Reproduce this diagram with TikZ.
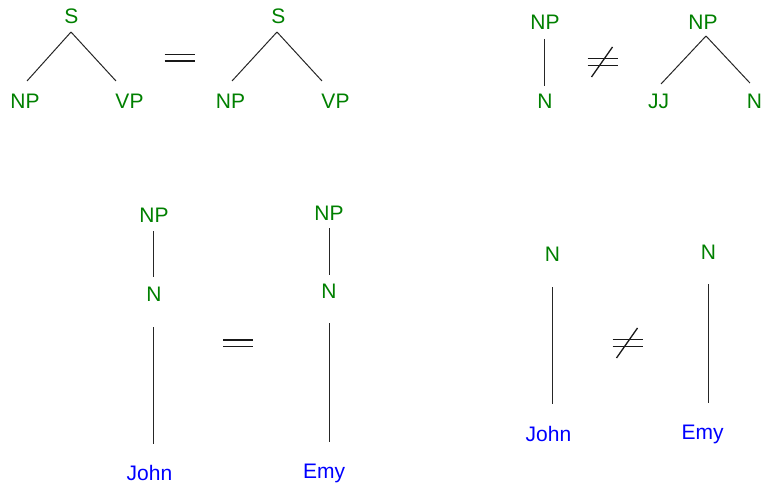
\documentclass[tikz,border=0pt]{standalone}
\usepackage{fontspec}
\setmainfont{Liberation Sans}
\usetikzlibrary{calc}
\definecolor{catgreen}{RGB}{0,128,0}
\definecolor{wordblue}{RGB}{0,0,255}
\tikzset{
  lbl/.style={anchor=base, inner sep=0pt, outer sep=0pt, text height=15pt, text depth=0pt, font=\fontsize{21}{24}\selectfont},
  cat/.style={lbl, text=catgreen},
  word/.style={lbl, text=wordblue},
  edge/.style={draw=black!85, line width=1pt},
  rel/.style={draw=black!90, line width=1.6pt},
  pics/eqsign/.style={code={
    \draw[rel] (-15,-3.3) -- (15,-3.3);
    \draw[rel] (-15,3.3) -- (15,3.3);
  }},
  pics/neqsign/.style={code={
    \draw[rel] (-15,-3.5) -- (15,-3.5);
    \draw[rel] (-15,3.5) -- (15,3.5);
    \draw[rel, line width=1.3pt] (-11,15) -- (10,-15);
  }}
}
\begin{document}
\begin{tikzpicture}[x=1pt,y=-1pt]
\useasboundingbox (0,0) rectangle (761,487);

% S -> NP VP (left)
\node[cat] (s1)  at (71.5,24)  {S};
\node[cat] (np1) at (25,108)   {NP};
\node[cat] (vp1) at (129.5,108){VP};
\draw[edge] ($(s1.south)+(-0.5,8)$) -- ($(np1.north)+(2,-12)$);
\draw[edge] ($(s1.south)+(-0.5,8)$) -- ($(vp1.north west)+(0.5,-12)$);

\pic at (179.5,57.7) {eqsign};

% S -> NP VP (right)
\node[cat] (s2)  at (278.5,24) {S};
\node[cat] (np2) at (230.5,108){NP};
\node[cat] (vp2) at (335.5,108){VP};
\draw[edge] ($(s2.south)+(-1.5,8)$) -- ($(np2.north)+(1.5,-12)$);
\draw[edge] ($(s2.south)+(-1.5,8)$) -- ($(vp2.north west)+(0.5,-12)$);

% NP -> N
\node[cat] (np3) at (545,30)  {NP};
\node[cat] (n3)  at (545,109) {N};
\draw[edge] ($(np3.south)+(-1,9)$) -- ($(n3.north)+(-1,-8)$);

\pic at (602.5,62) {neqsign};

% NP -> JJ N
\node[cat] (np4) at (703,30)   {NP};
\node[cat] (jj4) at (658.5,109){JJ};
\node[cat] (n4)  at (754.5,109){N};
\draw[edge] ($(np4.south)+(3,6)$) -- ($(jj4.north)+(2.5,-10)$);
\draw[edge] ($(np4.south)+(3,6)$) -- ($(n4.north west)+(3,-11)$);

% NP -> N -> John
\node[cat]  (np5)   at (154,222)   {NP};
\node[cat]  (n5)    at (154,301)   {N};
\node[word] (john1) at (149.5,480) {John};
\draw[edge] ($(np5.south)+(-1,9)$) -- ($(n5.north)+(-1,-9)$);
\draw[edge] ($(n5.south)+(-1,26)$) -- ($(n5.south |- john1.north)+(-1,-21)$);

\pic at (238,343) {eqsign};

% NP -> N -> Emy
\node[cat]  (np6)  at (329,220) {NP};
\node[cat]  (n6)   at (329,298) {N};
\node[word] (emy1) at (324,478) {Emy};
\draw[edge] ($(np6.south)+(0,8)$) -- ($(n6.north)+(0,-8)$);
\draw[edge] ($(n6.south)+(0,25)$) -- ($(n6.south |- emy1.north)+(0,-21)$);

% N -> John
\node[cat]  (n7)    at (552.5,261) {N};
\node[word] (john2) at (548.5,441) {John};
\draw[edge] ($(n7.south)+(-0.5,26)$) -- ($(n7.south |- john2.north)+(-0.5,-22)$);

\pic at (627.5,343) {neqsign};

% N -> Emy
\node[cat]  (n8)   at (708.5,259) {N};
\node[word] (emy2) at (702.5,439) {Emy};
\draw[edge] ($(n8.south)+(-0.5,25)$) -- ($(n8.south |- emy2.north)+(-0.5,-21)$);
\end{tikzpicture}
\end{document}
